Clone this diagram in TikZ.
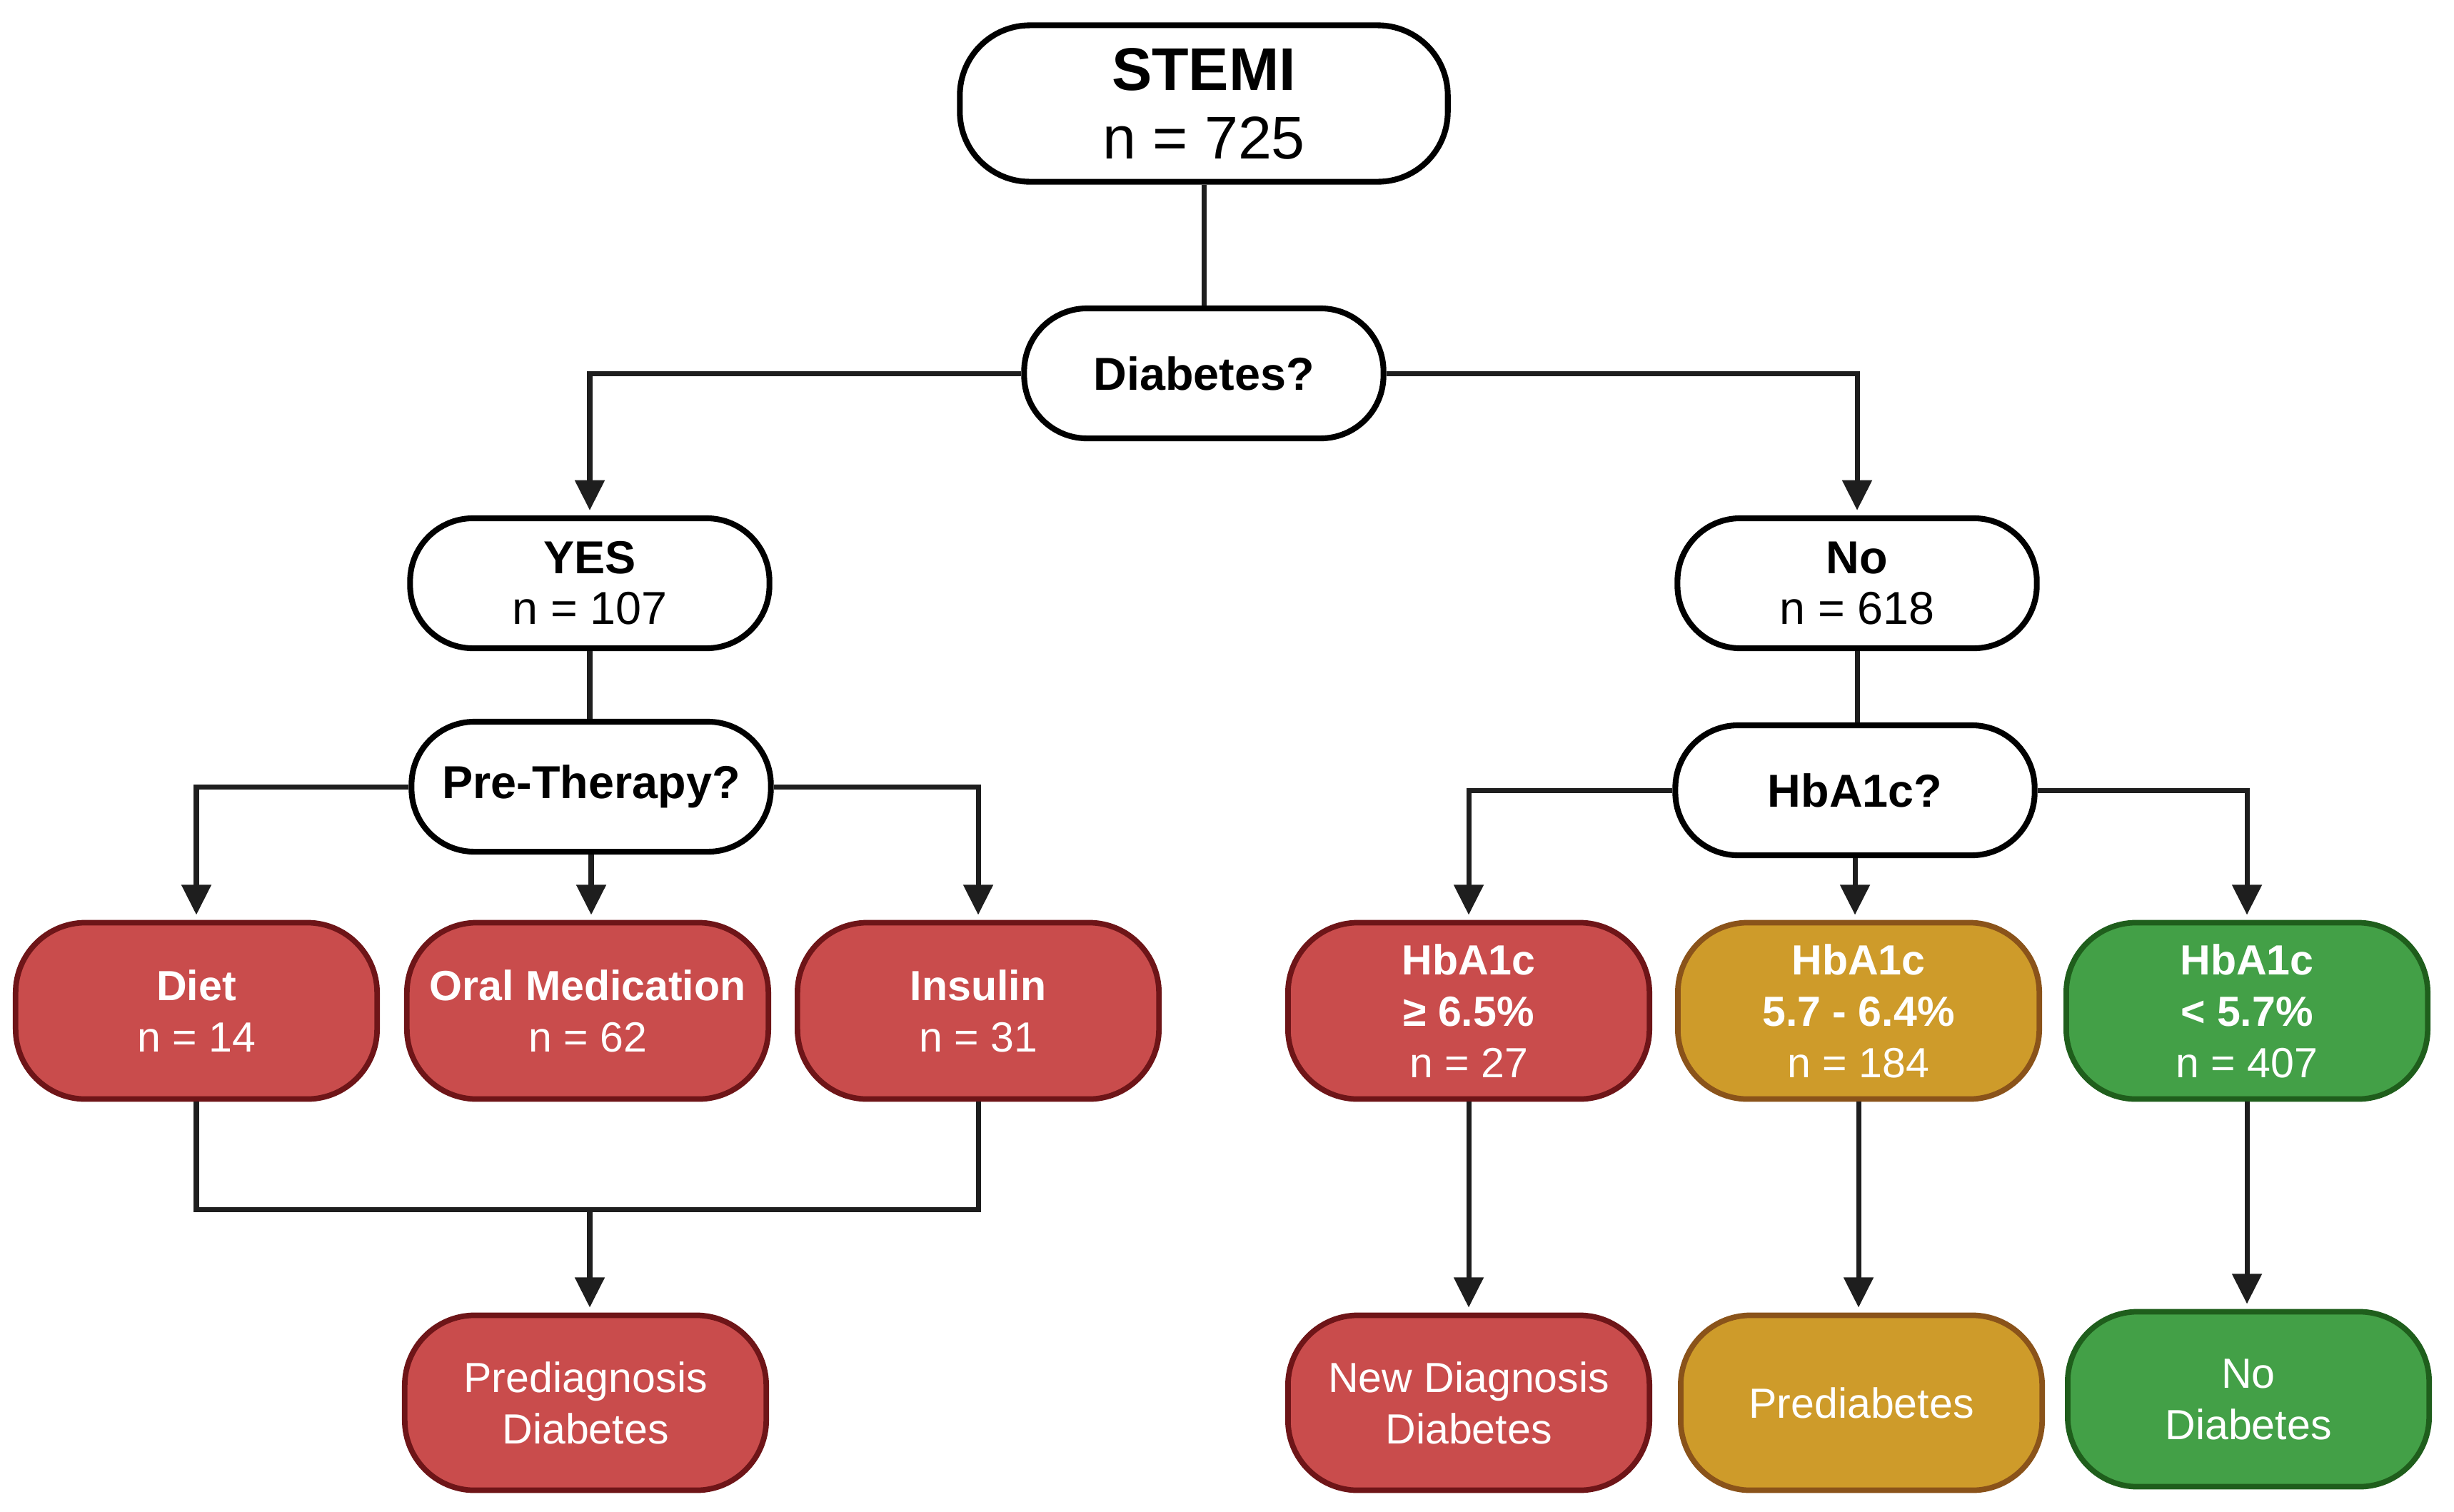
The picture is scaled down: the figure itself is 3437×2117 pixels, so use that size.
\documentclass[tikz,border=0pt]{standalone}
\usepackage{fontspec}
\setmainfont{Liberation Sans}
\usetikzlibrary{arrows.meta}
\definecolor{redfill}{HTML}{C94C4C}
\definecolor{redline}{HTML}{6E1518}
\definecolor{yelfill}{HTML}{CE9B2A}
\definecolor{yelline}{HTML}{8A531A}
\definecolor{grnfill}{HTML}{43A047}
\definecolor{grnline}{HTML}{1F5E1C}
\definecolor{ink}{HTML}{1E1E1E}
\begin{document}
\begin{tikzpicture}[x=0.01cm,y=-0.01cm,
  base/.style={align=center, inner sep=0pt},
  wbox/.style={base, draw=black, fill=white, text=black, line width=2.3pt,
    rounded corners=0.88cm, minimum width=5.03cm, minimum height=1.82cm,
    font=\fontsize{18.4}{20.2}\selectfont},
  cbox/.style={base, line width=2.2pt, text=white, rounded corners=0.98cm,
    minimum width=5.06cm, minimum height=2.47cm,
    font=\fontsize{16.8}{20.5}\selectfont},
  redbox/.style={cbox, draw=redline, fill=redfill},
  yelbox/.style={cbox, draw=yelline, fill=yelfill},
  grnbox/.style={cbox, draw=grnline, fill=grnfill},
  conn/.style={draw=ink, line width=2pt},
  arr/.style={conn, -{Triangle[width=11.5pt,length=12pt]}, shorten >=2pt},
]
\useasboundingbox (0,0) rectangle (3437,2117);

% top
\node[wbox, minimum width=6.83cm, minimum height=2.19cm, rounded corners=0.98cm,
  font=\fontsize{24}{27.3}\selectfont] (stemi) at (1686,145) {\textbf{STEMI}\\n = 725};
\node[wbox] (dia) at (1686,523) {\textbf{Diabetes?}};

% level 2
\node[wbox] (yes) at (826,817) {\textbf{YES}\\n = 107};
\node[wbox] (no) at (2601,817) {\textbf{No}\\n = 618};

% level 3
\node[wbox] (pre) at (828,1102) {\textbf{Pre-Therapy?}};
\node[wbox] (hba) at (2598,1107) {\textbf{HbA1c?}};

% level 4
\node[redbox] (diet) at (275,1416) {\textbf{Diet}\\n = 14};
\node[redbox] (oral) at (823,1416) {\textbf{Oral Medication}\\n = 62};
\node[redbox] (ins) at (1370,1416) {\textbf{Insulin}\\n = 31};
\node[redbox] (h1) at (2057,1416) {\textbf{HbA1c}\\\textbf{≥ 6.5\%}\\n = 27};
\node[yelbox] (h2) at (2603,1416) {\textbf{HbA1c}\\\textbf{5.7 - 6.4\%}\\n = 184};
\node[grnbox] (h3) at (3147,1416) {\textbf{HbA1c}\\\textbf{< 5.7\%}\\n = 407};

% level 5
\node[redbox, minimum height=2.45cm] (prediag) at (820,1965) {Prediagnosis\\Diabetes};
\node[redbox, minimum height=2.45cm] (newdiag) at (2057,1965) {New Diagnosis\\Diabetes};
\node[yelbox, minimum height=2.45cm] (prediab) at (2607,1965) {Prediabetes};
\node[grnbox, minimum height=2.45cm] (nodiab) at (3149,1960) {No\\Diabetes};

% connectors
\draw[conn] (stemi.south) -- (stemi.south |- dia.north);
\draw[arr] (dia.west) -| (yes.north);
\draw[arr] (dia.east) -| (no.north);
\draw[conn] (yes.south) -- (yes.south |- pre.north);
\draw[conn] (no.south) -- (no.south |- hba.north);

\draw[arr] (pre.west) -| (diet.north);
\draw[arr] (pre.south) -- (pre.south |- oral.north);
\draw[arr] (pre.east) -| (ins.north);

\draw[arr] (hba.west) -| (h1.north);
\draw[arr] (hba.south) -- (hba.south |- h2.north);
\draw[arr] (hba.east) -| (h3.north);

\coordinate (jn) at (826,1694);
\draw[conn] (diet.south) |- (jn) -| (ins.south);
\draw[arr] (jn) -- (jn |- prediag.north);

\draw[arr] (h1.south) -- (h1.south |- newdiag.north);
\draw[arr] (h2.south) -- (h2.south |- prediab.north);
\draw[arr] (h3.south) -- (h3.south |- nodiab.north);
\end{tikzpicture}
\end{document}
